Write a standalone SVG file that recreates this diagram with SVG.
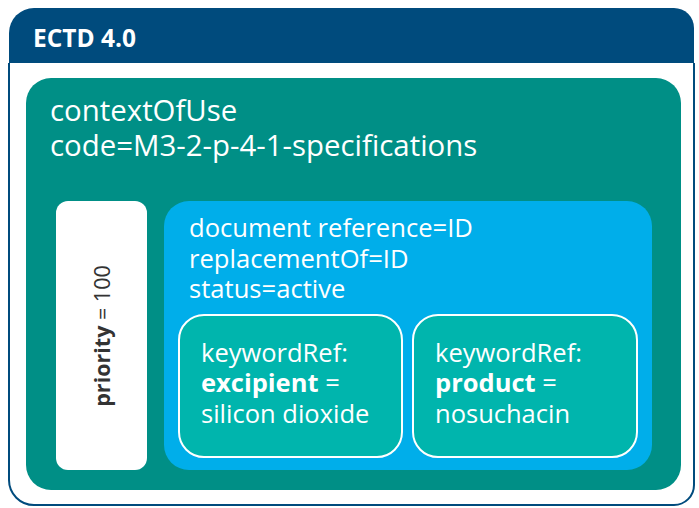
<svg xmlns="http://www.w3.org/2000/svg" width="699" height="508" viewBox="0 0 699 508">
<style>
text{font-family:"Open Sans","Noto Sans","Liberation Sans",sans-serif;fill:#fff}
.b{font-weight:bold}
.big{font-size:29.4px}
.mid{font-size:25.6px}
.kw{font-size:25.5px}
</style>
<rect x="0" y="0" width="699" height="508" fill="#fff"/>
<g id="ectd">
<path d="M9,33 A25,25 0 0 1 34,8 L674,8 A20,20 0 0 1 694,28 L694,63 L9,63 Z" fill="#004b7d"/>
<path d="M9,63 L9,480 A25,25 0 0 0 34,505 L674,505 A20,20 0 0 0 694,485 L694,63" fill="none" stroke="#004b7d" stroke-width="2"/>
<text x="33" y="47" class="b" font-size="24.5">ECTD 4.0</text>
</g>
<g id="context">
<rect x="26" y="78" width="655" height="412" rx="25" fill="#008f86"/>
<text x="50" y="121" class="big">contextOfUse</text>
<text x="50" y="156" class="big">code=M3-2-p-4-1-specifications</text>
</g>
<g id="priority">
<rect x="56" y="201" width="91" height="269" rx="12" fill="#fff"/>
<text transform="translate(110,336) rotate(-90)" text-anchor="middle" font-size="21.5" style="fill:#333"><tspan class="b">priority</tspan> = 100</text>
</g>
<g id="document">
<rect x="164" y="201" width="488" height="269" rx="25" fill="#00aeea"/>
<text x="189" y="237" class="mid">document reference=ID</text>
<text x="189" y="268" class="mid">replacementOf=ID</text>
<text x="189" y="298" class="mid">status=active</text>
</g>
<g id="kw1">
<rect x="179" y="315" width="223" height="142" rx="25" fill="#00b5ad" stroke="#fff" stroke-width="2"/>
<text x="201" y="362" class="kw">keywordRef:</text>
<text x="201" y="392" class="kw"><tspan class="b">excipient</tspan> =</text>
<text x="201" y="423" class="kw">silicon dioxide</text>
</g>
<g id="kw2">
<rect x="413" y="315" width="224" height="142" rx="25" fill="#00b5ad" stroke="#fff" stroke-width="2"/>
<text x="435" y="362" class="kw">keywordRef:</text>
<text x="435" y="392" class="kw"><tspan class="b">product</tspan> =</text>
<text x="435" y="423" class="kw">nosuchacin</text>
</g>
<g id="connectors"></g>
</svg>
